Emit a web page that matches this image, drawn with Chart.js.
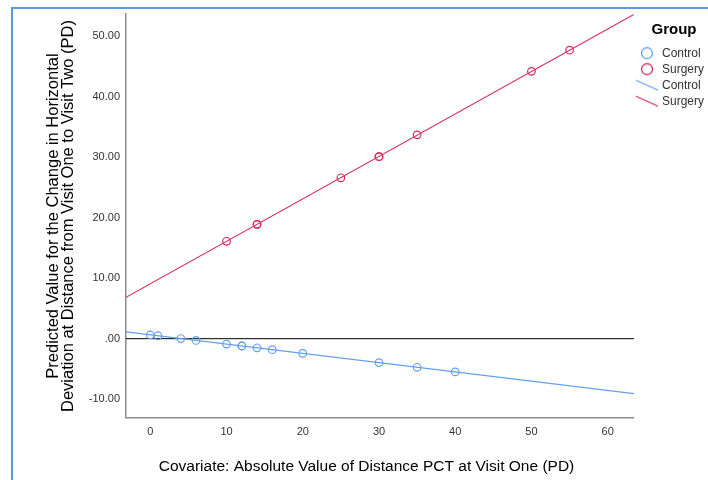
<!DOCTYPE html>
<html>
<head>
<meta charset="utf-8">
<script src="https://cdn.jsdelivr.net/npm/chart.js@4.4.0/dist/chart.umd.min.js"></script>
<style>
  html, body { margin: 0; padding: 0; background: #fff; overflow: hidden; }
  #frame { position: absolute; left: 11px; top: 7px; width: 760px; height: 540px; border: 2px solid #5b9bd5; }
  #wrap { position: absolute; left: 13px; top: 9px; width: 701px; height: 471px; }
</style>
</head>
<body>
<div id="frame"></div>
<div id="wrap"><canvas id="myChart"></canvas></div>
<script>
/* Predicted change vs covariate, by group */
const groups = ["Control", "Surgery"];

const controlX = [0, 1, 4, 6, 10, 12, 12, 14, 16, 20, 30, 35, 40];
const controlY = [0.63, 0.48, 0.02, -0.29, -0.90, -1.21, -1.21, -1.51, -1.82, -2.43, -3.96, -4.73, -5.49];

const surgeryX = [10, 14, 14, 25, 30, 30, 35, 50, 55];
const surgeryY = [16.1, 18.9, 18.9, 26.6, 30.1, 30.1, 33.7, 44.2, 47.7];

// fitted lines across the axis range
const xMin = -3.19, xMax = 63.45;
const yMin = -13.1, yMax = 53.65;
const fitX = [xMin, xMax];
const controlFit = [1.12, -9.08];
const surgeryFit = [6.84, 53.62];

const xTicks = [0, 10, 20, 30, 40, 50, 60];
const yTicks = [-10, 0, 10, 20, 30, 40, 50];

const blue = "#64a0ee";
const red = "#d72c58";

function pts(xs, ys) {
  return xs.map((x, i) => ({ x: x, y: ys[i] }));
}

// small icons for the legend: open circle or a slanted line
function legendIcon(kind, color) {
  const c = document.createElement("canvas");
  c.width = 24; c.height = 14;
  const g = c.getContext("2d");
  g.strokeStyle = color;
  g.lineWidth = 1.3;
  g.beginPath();
  if (kind === "circle") {
    g.arc(12, 7, 5.5, 0, Math.PI * 2);
  } else {
    g.moveTo(1, 2);
    g.lineTo(23, 12);
  }
  g.stroke();
  return c;
}

const font = "Arial, 'Liberation Sans', sans-serif";

const data = {
  datasets: [
    {
      label: groups[0],
      data: pts(controlX, controlY),
      borderColor: blue,
      backgroundColor: "transparent",
      pointRadius: 3.8,
      pointBorderWidth: 1.2,
      icon: legendIcon("circle", blue),
    },
    {
      label: groups[1],
      data: pts(surgeryX, surgeryY),
      borderColor: red,
      backgroundColor: "transparent",
      pointRadius: 3.8,
      pointBorderWidth: 1.2,
      icon: legendIcon("circle", red),
    },
    {
      label: groups[0],
      data: pts(fitX, controlFit),
      showLine: true,
      borderColor: blue,
      borderWidth: 1.1,
      pointRadius: 0,
      icon: legendIcon("line", blue),
    },
    {
      label: groups[1],
      data: pts(fitX, surgeryFit),
      showLine: true,
      borderColor: red,
      borderWidth: 1.1,
      pointRadius: 0,
      icon: legendIcon("line", red),
    },
    {
      label: "zero",
      data: pts(fitX, [0, 0]),
      showLine: true,
      borderColor: "#000",
      borderWidth: 1,
      pointRadius: 0,
    },
  ],
};

const config = {
  type: "scatter",
  data: data,
  options: {
    responsive: true,
    maintainAspectRatio: false,
    animation: false,
    layout: { padding: { top: 5, left: 6, right: 0, bottom: 0 } },
    plugins: {
      tooltip: { enabled: false },
      title: {
        display: true,
        position: "bottom",
        text: "Covariate: Absolute Value of Distance PCT at Visit One (PD)",
        color: "#000",
        font: { family: font, size: 15.5, weight: "normal" },
        padding: { top: 0, bottom: 4 },
      },
      legend: {
        position: "right",
        align: "start",
        fullSize: false,
        title: {
          display: true,
          text: "Group",
          color: "#000",
          font: { family: font, size: 15, weight: "bold" },
          padding: { top: 8.5, bottom: 2.5 },
        },
        labels: {
          usePointStyle: true,
          pointStyleWidth: 18,
          padding: 4,
          color: "#333",
          font: { family: font, size: 12 },
          generateLabels: (chart) =>
            chart.data.datasets
              .map((ds, i) => ({
                text: ds.label,
                pointStyle: ds.icon,
                fontColor: "#333",
                fillStyle: "transparent",
                strokeStyle: "transparent",
                lineWidth: 0,
                hidden: false,
                datasetIndex: i,
              }))
              .filter((item) => item.pointStyle),
        },
      },
    },
    scales: {
      x: {
        type: "linear",
        min: xMin,
        max: xMax,
        grid: { display: false, drawTicks: false },
        border: { display: true, color: "#8c8c8c", width: 1.5 },
        afterBuildTicks: (scale) => { scale.ticks = xTicks.map((v) => ({ value: v })); },
        afterFit: (scale) => { scale.height = 39.5; },
        ticks: {
          color: "#333",
          padding: 7,
          font: { family: font, size: 11 },
          callback: (v) => String(v),
        },
      },
      y: {
        type: "linear",
        min: yMin,
        max: yMax,
        grid: { display: false, drawTicks: false },
        border: { display: true, color: "#8c8c8c", width: 1.5 },
        afterBuildTicks: (scale) => { scale.ticks = yTicks.map((v) => ({ value: v })); },
        afterFit: (scale) => {
          scale.width = 107;
          scale.paddingTop = 0;
          scale.paddingBottom = 0;
        },
        ticks: {
          color: "#333",
          padding: 6,
          font: { family: font, size: 11 },
          callback: (v) => (v === 0 ? ".00" : v.toFixed(2)),
        },
        title: {
          display: true,
          text: [
            "Predicted Value for the Change in Horizontal",
            "Deviation at Distance from Visit One to Visit Two (PD)",
          ],
          color: "#000",
          font: { family: font, size: 16.5, lineHeight: "15px" },
          padding: { top: 26.5, bottom: 0 },
        },
      },
    },
  },
};

var myChart = new Chart(document.getElementById("myChart"), config);
</script>
</body>
</html>
